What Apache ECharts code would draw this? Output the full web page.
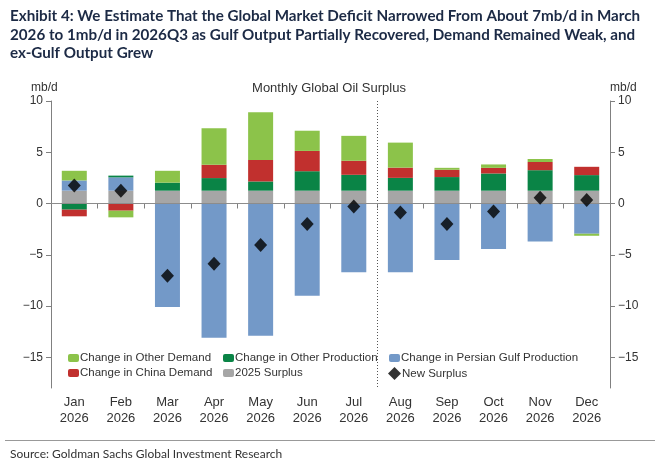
<!DOCTYPE html>
<html>
<head>
<meta charset="utf-8">
<script src="https://cdn.jsdelivr.net/npm/echarts@6/dist/echarts.min.js"></script>
<style>
  html, body { margin: 0; padding: 0; background: #fff; }
  #main { width: 658px; height: 462px; }
</style>
</head>
<body>
<div id="main"></div>
<script>
// categories and values (mb/d)
const months = ['Jan\n2026', 'Feb\n2026', 'Mar\n2026', 'Apr\n2026', 'May\n2026', 'Jun\n2026',
                'Jul\n2026', 'Aug\n2026', 'Sep\n2026', 'Oct\n2026', 'Nov\n2026', 'Dec\n2026'];
const surplus2025     = [1.25, 1.25, 1.25, 1.25, 1.25, 1.25, 1.25, 1.25, 1.25, 1.25, 1.25, 1.25];
const gulfProduction  = [1.0, 1.3, -10.1, -13.1, -12.9, -9.0, -6.7, -6.7, -5.5, -4.45, -3.7, -2.95];
const otherProduction = [-0.6, 0.17, 0.78, 1.23, 0.9, 1.9, 1.55, 1.25, 1.33, 1.68, 2.0, 1.52];
const chinaDemand     = [-0.65, -0.7, 0, 1.3, 2.1, 1.98, 1.37, 1.0, 0.71, 0.55, 0.8, 0.81];
const otherDemand     = [0.94, -0.65, 1.16, 3.57, 4.65, 1.97, 2.43, 2.44, 0.19, 0.33, 0.29, -0.2];
const newSurplus      = [1.75, 1.25, -7.05, -5.87, -4.05, -2.0, -0.3, -0.87, -2.0, -0.78, 0.55, 0.33];
const yTicks = [-15, -10, -5, 0, 5, 10];

const chart = echarts.init(document.getElementById('main'));

const axisFont = 'Arial';
const axisColor = '#808080';

function yAxisCfg(pos) {
  return {
    type: 'value',
    position: pos,
    min: -18,
    max: 10,
    splitLine: { show: false },
    axisLine: { show: true, lineStyle: { color: axisColor } },
    axisTick: { show: true, length: 5, customValues: yTicks, lineStyle: { color: axisColor } },
    axisLabel: {
      customValues: yTicks,
      fontFamily: axisFont, fontSize: 12, color: '#333', margin: 8,
      formatter: v => String(v).replace('-', '−')
    }
  };
}

function bar(name, data, color) {
  return {
    name, type: 'bar', stack: 'total', data,
    barWidth: 25,
    itemStyle: { color },
    emphasis: { disabled: true }
  };
}

const legendBase = {
  orient: 'vertical',
  itemWidth: 11, itemHeight: 8, itemGap: 3,
  textStyle: { fontFamily: axisFont, fontSize: 11.5, color: '#333', padding: [0, 0, 0, -4] },
  selectedMode: false,
  top: 347
};

chart.setOption({
  animation: false,
  title: [
    {
      text: 'Exhibit 4: We Estimate That the Global Market Deficit Narrowed From About 7mb/d in March\n' +
            '2026 to 1mb/d in 2026Q3 as Gulf Output Partially Recovered, Demand Remained Weak, and\n' +
            'ex-Gulf Output Grew',
      left: 5, top: 2,
      textStyle: { fontFamily: 'Lato, sans-serif', fontWeight: 'bold', fontSize: 15.2, lineHeight: 18.5, color: '#1c2a45' }
    },
    { text: 'Monthly Global Oil Surplus', left: 'center', top: 77,
      textStyle: { fontFamily: axisFont, fontWeight: 'normal', fontSize: 13, color: '#333' } },
    { text: 'mb/d', left: 26, top: 77,
      textStyle: { fontFamily: axisFont, fontWeight: 'normal', fontSize: 12, color: '#333' } },
    { text: 'mb/d', left: 605, top: 77,
      textStyle: { fontFamily: axisFont, fontWeight: 'normal', fontSize: 12, color: '#333' } },
    { text: 'Source: Goldman Sachs Global Investment Research', left: 5, top: 443,
      textStyle: { fontFamily: 'Lato, sans-serif', fontWeight: 'normal', fontSize: 12, color: '#333' } }
  ],
  grid: { left: 51, right: 48, top: 101, bottom: 74 },
  legend: [
    Object.assign({}, legendBase, { left: 63, data: ['Change in Other Demand', 'Change in China Demand'] }),
    Object.assign({}, legendBase, { left: 218, data: ['Change in Other Production', '2025 Surplus'] }),
    Object.assign({}, legendBase, { left: 384, data: ['Change in Persian Gulf Production'] }),
    Object.assign({}, legendBase, { left: 383, top: 362, itemWidth: 13, itemHeight: 13,
      data: [{ name: 'New Surplus', icon: 'diamond', itemStyle: { color: '#000' } }] })
  ],
  xAxis: {
    type: 'category',
    data: months,
    axisLine: { show: true, lineStyle: { color: axisColor } },
    axisTick: { show: true, length: 5, lineStyle: { color: axisColor } },
    axisLabel: { fontFamily: axisFont, fontSize: 13, color: '#333', lineHeight: 16, margin: 6, interval: 0 }
  },
  yAxis: [yAxisCfg('left'), yAxisCfg('right')],
  series: [
    Object.assign(bar('2025 Surplus', surplus2025, '#a6a6a6'), {
      markLine: {
        silent: true, symbol: 'none', label: { show: false },
        lineStyle: { color: '#8c8c8c', type: 'solid', width: 1 },
        data: [{ yAxis: 0 }], z: 5
      }
    }),
    bar('Change in Persian Gulf Production', gulfProduction, '#7399c8'),
    bar('Change in Other Production', otherProduction, '#0a8446'),
    bar('Change in China Demand', chinaDemand, '#c1302e'),
    bar('Change in Other Demand', otherDemand, '#8cc34a'),
    {
      name: 'New Surplus', type: 'scatter', data: newSurplus,
      symbol: 'diamond', symbolSize: [13, 14],
      itemStyle: { color: '#000' }, z: 10
    }
  ]
});

// dotted divider between Jul and Aug, plus the rule above the source line
const xJul = chart.convertToPixel({ xAxisIndex: 0 }, months[6]);
const xAug = chart.convertToPixel({ xAxisIndex: 0 }, months[7]);
const yTop = chart.convertToPixel({ yAxisIndex: 0 }, 10);
const yBot = chart.convertToPixel({ yAxisIndex: 0 }, -18);
const xMid = Math.round((xJul + xAug) / 2) + 0.5;
chart.setOption({
  graphic: [
    { type: 'line', shape: { x1: xMid, y1: yTop, x2: xMid, y2: yBot },
      style: { stroke: '#555', lineWidth: 1, lineDash: [1, 2] }, z: 1 },
    { type: 'line', shape: { x1: 5, y1: 440.5, x2: 655, y2: 440.5 },
      style: { stroke: '#999', lineWidth: 1 } }
  ]
});
</script>
</body>
</html>
